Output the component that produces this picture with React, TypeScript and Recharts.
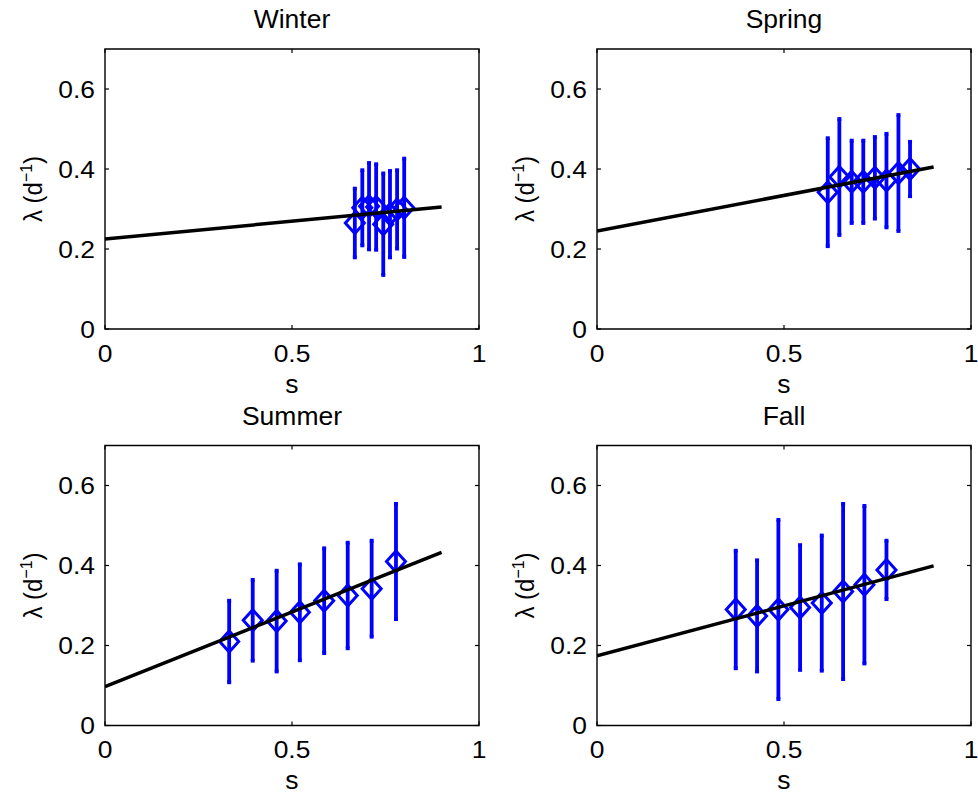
import React from "react";
import { ComposedChart, Scatter, ErrorBar, XAxis, YAxis, ReferenceArea } from "recharts";

// seasons
const winterS = [0.668, 0.688, 0.706, 0.725, 0.744, 0.762, 0.781, 0.8];
const winterLambda = [0.265, 0.303, 0.307, 0.305, 0.262, 0.287, 0.299, 0.303];
const winterErr = [0.086, 0.094, 0.108, 0.107, 0.127, 0.108, 0.098, 0.123];
const winterFit = [0.225, 0.305];

const springS = [0.617, 0.648, 0.681, 0.712, 0.743, 0.774, 0.806, 0.837];
const springLambda = [0.342, 0.38, 0.368, 0.368, 0.378, 0.371, 0.39, 0.4];
const springErr = [0.135, 0.145, 0.103, 0.103, 0.102, 0.117, 0.145, 0.068];
const springFit = [0.245, 0.405];

const summerS = [0.332, 0.395, 0.459, 0.521, 0.586, 0.649, 0.713, 0.778];
const summerLambda = [0.21, 0.263, 0.261, 0.283, 0.312, 0.325, 0.342, 0.41];
const summerErr = [0.102, 0.101, 0.126, 0.12, 0.131, 0.132, 0.12, 0.144];
const summerFit = [0.097, 0.433];

const fallS = [0.371, 0.428, 0.485, 0.543, 0.601, 0.658, 0.715, 0.774];
const fallLambda = [0.29, 0.274, 0.29, 0.295, 0.306, 0.335, 0.352, 0.389];
const fallErr = [0.147, 0.139, 0.224, 0.156, 0.169, 0.219, 0.197, 0.073];
const fallFit = [0.174, 0.399];

const fitS = [0, 0.9];
const xTicks = [0, 0.5, 1];
const yTicks = [0, 0.2, 0.4, 0.6];

const FONT = '"Liberation Sans", Arial, Helvetica, sans-serif';
const BLUE = "#0000ff";
const TICK_FS = 24;
const TICK_SX = 1.1;
const TITLE_FS = 25;
const TITLE_SX = 1.06;
const TICK_LEN = 4;

const toPoints = (s: number[], lam: number[], err: number[]) =>
  s.map((v, i) => ({ s: v, lambda: lam[i], err: err[i] }));
const toFit = (vals: number[]) => fitS.map((v, i) => ({ s: v, lambda: vals[i] }));

const Diamond = (props: any) => {
  const { cx, cy } = props;
  if (cx == null || cy == null) return <g />;
  const w = 9.5;
  const h = 10.5;
  return (
    <path
      d={`M${cx},${cy - h} L${cx + w},${cy} L${cx},${cy + h} L${cx - w},${cy} Z`}
      fill="none"
      stroke={BLUE}
      strokeWidth={3}
    />
  );
};

const NoShape = () => <g />;

interface PanelProps {
  title: string;
  left: number;
  top: number;
  width: number;
  height: number;
  plot: { x0: number; x1: number; y0: number; y1: number };
  points: { s: number; lambda: number; err: number }[];
  fit: { s: number; lambda: number }[];
}

function Panel({ title, left, top, width, height, plot, points, fit }: PanelProps) {
  const yAxisW = 60;
  const xAxisH = 40;
  const margin = {
    top: plot.y0 - top,
    left: plot.x0 - left - yAxisW,
    right: left + width - plot.x1,
    bottom: top + height - plot.y1 - xAxisH,
  };
  const pl = plot.x0 - left;
  const pr = plot.x1 - left;
  const pt = plot.y0 - top;
  const pb = plot.y1 - top;
  const cx = (pl + pr) / 2;
  const cy = (pt + pb) / 2;

  // tick label + inward tick marks on both sides of the box
  const XTick = (p: any) => (
    <g>
      <line x1={p.x} x2={p.x} y1={pb} y2={pb - TICK_LEN} stroke="#000" strokeWidth={1.2} />
      <line x1={p.x} x2={p.x} y1={pt} y2={pt + TICK_LEN} stroke="#000" strokeWidth={1.2} />
      <text
        transform={`translate(${p.x},${pb + 15.5}) scale(${TICK_SX},1)`}
        textAnchor="middle"
        dy="0.72em"
        fontSize={TICK_FS}
        fontFamily={FONT}
        fill="#000"
      >
        {String(p.payload.value)}
      </text>
    </g>
  );

  const YTick = (p: any) => (
    <g>
      <line x1={pl} x2={pl + TICK_LEN} y1={p.y} y2={p.y} stroke="#000" strokeWidth={1.2} />
      <line x1={pr} x2={pr - TICK_LEN} y1={p.y} y2={p.y} stroke="#000" strokeWidth={1.2} />
      <text
        transform={`translate(${pl - 10},${p.y}) scale(${TICK_SX},1)`}
        textAnchor="end"
        dy="0.36em"
        fontSize={TICK_FS}
        fontFamily={FONT}
        fill="#000"
      >
        {String(p.payload.value)}
      </text>
    </g>
  );

  return (
    <div style={{ position: "absolute", left, top, width, height }}>
      <ComposedChart width={width} height={height} margin={margin}>
        <XAxis
          xAxisId="bottom"
          orientation="bottom"
          type="number"
          dataKey="s"
          domain={[0, 1]}
          ticks={xTicks}
          interval={0}
          allowDataOverflow
          height={xAxisH}
          axisLine={false}
          tickLine={false}
          tick={XTick}
          label={{
            content: () => (
              <text
                x={cx}
                y={pb + 64}
                textAnchor="middle"
                fontSize={TITLE_FS}
                fontFamily={FONT}
                fill="#000"
                transform={`translate(${cx},0) scale(${TITLE_SX},1) translate(${-cx},0)`}
              >
                s
              </text>
            ),
          }}
        />
        <YAxis
          yAxisId="left"
          orientation="left"
          type="number"
          dataKey="lambda"
          domain={[0, 0.7]}
          ticks={yTicks}
          interval={0}
          allowDataOverflow
          width={yAxisW}
          axisLine={false}
          tickLine={false}
          tick={YTick}
          label={{
            content: () => (
              <text
                transform={`translate(${pl - 63},${cy}) rotate(-90) scale(1,1.08)`}
                textAnchor="middle"
                fontSize={24}
                fontFamily={FONT}
                fill="#000"
              >
                λ (d<tspan dy={-9} fontSize={16}>−1</tspan>
                <tspan dy={9}>)</tspan>
              </text>
            ),
          }}
        />
        <ReferenceArea
          xAxisId="bottom"
          yAxisId="left"
          x1={0}
          x2={1}
          y1={0}
          y2={0.7}
          fill="none"
          fillOpacity={0}
          stroke="#000"
          strokeWidth={1.4}
          ifOverflow="visible"
          label={{
            content: () => (
              <text
                x={cx}
                y={pt - 20.5}
                textAnchor="middle"
                fontSize={TITLE_FS}
                fontFamily={FONT}
                fill="#000"
                transform={`translate(${cx},0) scale(${TITLE_SX},1) translate(${-cx},0)`}
              >
                {title}
              </text>
            ),
          }}
        />
        <Scatter
          xAxisId="bottom"
          yAxisId="left"
          data={points}
          dataKey="lambda"
          fill={BLUE}
          shape={Diamond}
          isAnimationActive={false}
        >
          <ErrorBar dataKey="err" direction="y" width={2} stroke={BLUE} strokeWidth={3.8} isAnimationActive={false} />
        </Scatter>
        <Scatter
          xAxisId="bottom"
          yAxisId="left"
          data={fit}
          dataKey="lambda"
          fill="#000"
          line={{ stroke: "#000", strokeWidth: 3.5 }}
          shape={NoShape}
          isAnimationActive={false}
        />
      </ComposedChart>
    </div>
  );
}

export default function App() {
  return (
    <div style={{ position: "absolute", left: 0, top: 0, width: 978, height: 800, background: "#fff" }}>
      <Panel
        title="Winter"
        left={0}
        top={0}
        width={490}
        height={400}
        plot={{ x0: 105, x1: 479, y0: 49, y1: 329 }}
        points={toPoints(winterS, winterLambda, winterErr)}
        fit={toFit(winterFit)}
      />
      <Panel
        title="Spring"
        left={490}
        top={0}
        width={488}
        height={400}
        plot={{ x0: 597, x1: 971, y0: 49, y1: 329 }}
        points={toPoints(springS, springLambda, springErr)}
        fit={toFit(springFit)}
      />
      <Panel
        title="Summer"
        left={0}
        top={400}
        width={490}
        height={400}
        plot={{ x0: 105, x1: 479, y0: 445.5, y1: 725.5 }}
        points={toPoints(summerS, summerLambda, summerErr)}
        fit={toFit(summerFit)}
      />
      <Panel
        title="Fall"
        left={490}
        top={400}
        width={488}
        height={400}
        plot={{ x0: 597, x1: 971, y0: 445.5, y1: 725.5 }}
        points={toPoints(fallS, fallLambda, fallErr)}
        fit={toFit(fallFit)}
      />
    </div>
  );
}
